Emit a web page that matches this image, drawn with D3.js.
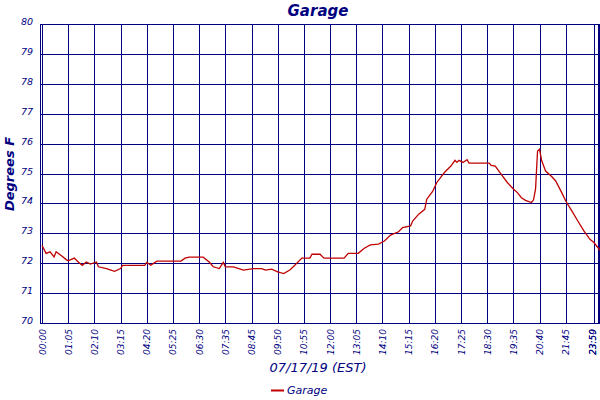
<!DOCTYPE html>
<html><head><meta charset="utf-8">
<script src="https://d3js.org/d3.v7.min.js"></script>
<style>body{margin:0;background:#fff}text{font-family:"DejaVu Sans",sans-serif;font-style:italic;fill:#000080}</style>
</head><body><svg id="c" width="600" height="400"></svg>
<script>
const sampleIdx=[0,2,4,6,7,10,12,13,16,18,20,22,24,27,28,32,36,39,40,51,52,54,57,69,71,73,80,83,85,88,90,91,95,100,105,109,111,114,117,120,123,125,129,133,134,138,140,150,152,157,160,163,167,170,173,177,179,183,184,187,190,191,194,196,198,200,203,205,206,207,209,211,212,222,223,225,228,231,234,236,238,240,243,244,245,246,247,248,250,253,255,258,260,263,266,269,272,274,277];
const temps=[72.6,72.33,72.38,72.21,72.38,72.23,72.12,72.08,72.17,72.04,71.93,72.04,71.97,72.04,71.88,71.82,71.73,71.82,71.93,71.93,72.03,71.93,72.07,72.07,72.17,72.2,72.2,72.04,71.88,71.82,72.03,71.88,71.88,71.77,71.82,71.82,71.77,71.8,71.71,71.65,71.77,71.9,72.17,72.17,72.3,72.3,72.17,72.17,72.33,72.33,72.5,72.61,72.64,72.74,72.94,73.05,73.19,73.25,73.41,73.64,73.8,74.14,74.41,74.7,74.88,75.05,75.25,75.44,75.37,75.44,75.37,75.46,75.35,75.35,75.27,75.25,74.97,74.7,74.48,74.36,74.19,74.1,74.03,74.12,74.48,75.75,75.81,75.44,75.08,74.9,74.75,74.36,74.08,73.75,73.41,73.08,72.8,72.69,72.43];
const tickIdx=[0,13,26,39,52,65,78,91,104,117,130,143,156,169,182,195,208,221,234,247,260,274,276];
const tickLabels=["00:00","01:05","02:10","03:15","04:20","05:25","06:30","07:35","08:45","09:50","10:55","12:00","13:05","14:10","15:15","16:20","17:25","18:30","19:35","20:40","21:45","23:50","23:59"];
const yTicks=[70,71,72,73,74,75,76,77,78,79,80];
const title="Garage", xTitle="07/17/19 (EST)", yTitle="Degrees F", seriesName="Garage";
const navy="#000080", red="#c00000";
const svg=d3.select("#c");
const x=d3.scaleLinear().domain([0,277]).range([42,600]);
const y=d3.scaleLinear().domain([70,80]).range([323,24]);
const L=40,R=599,T=24,B=323;
const g=svg.append("g");
g.selectAll(".hg").data(yTicks).join("line").attr("x1",L).attr("x2",R).attr("y1",d=>Math.round(y(d))+.5).attr("y2",d=>Math.round(y(d))+.5).attr("stroke",navy);
g.selectAll(".vg").data(tickIdx).join("line").attr("x1",d=>Math.round(x(d))+.5).attr("x2",d=>Math.round(x(d))+.5).attr("y1",T).attr("y2",B).attr("stroke",navy);
g.append("rect").attr("x",L+.5).attr("y",T+.5).attr("width",R-L).attr("height",B-T).attr("fill","none").attr("stroke",navy);
g.selectAll(".yl").data(yTicks).join("text").attr("x",33).attr("y",d=>y(d)+1).attr("text-anchor","end").attr("font-size",9.5).text(d=>d);
g.selectAll(".xl").data(tickIdx).join("text").attr("transform",(d)=>`translate(${Math.min(x(d)+3.5,596)},329) rotate(-90)`).attr("text-anchor","end").attr("font-size",9).text((d,i)=>tickLabels[i]);
const pts=sampleIdx.map((d,i)=>[d,temps[i]]);
svg.append("path").datum(pts).attr("d",d3.line().x(d=>x(d[0])).y(d=>y(d[1]))).attr("fill","none").attr("stroke",red).attr("stroke-width",1.3);
svg.append("text").attr("x",318).attr("y",16).attr("text-anchor","middle").attr("font-size",15).attr("font-weight","bold").text(title);
svg.append("text").attr("x",318).attr("y",372).attr("text-anchor","middle").attr("font-size",13).text(xTitle);
svg.append("text").attr("transform","translate(14,174) rotate(-90)").attr("text-anchor","middle").attr("font-size",13).attr("font-weight","bold").text(yTitle);
svg.append("line").attr("x1",271).attr("x2",284).attr("y1",390.5).attr("y2",390.5).attr("stroke",red).attr("stroke-width",2);
svg.append("text").attr("x",287).attr("y",394).attr("font-size",11).text(seriesName);
</script></body></html>
